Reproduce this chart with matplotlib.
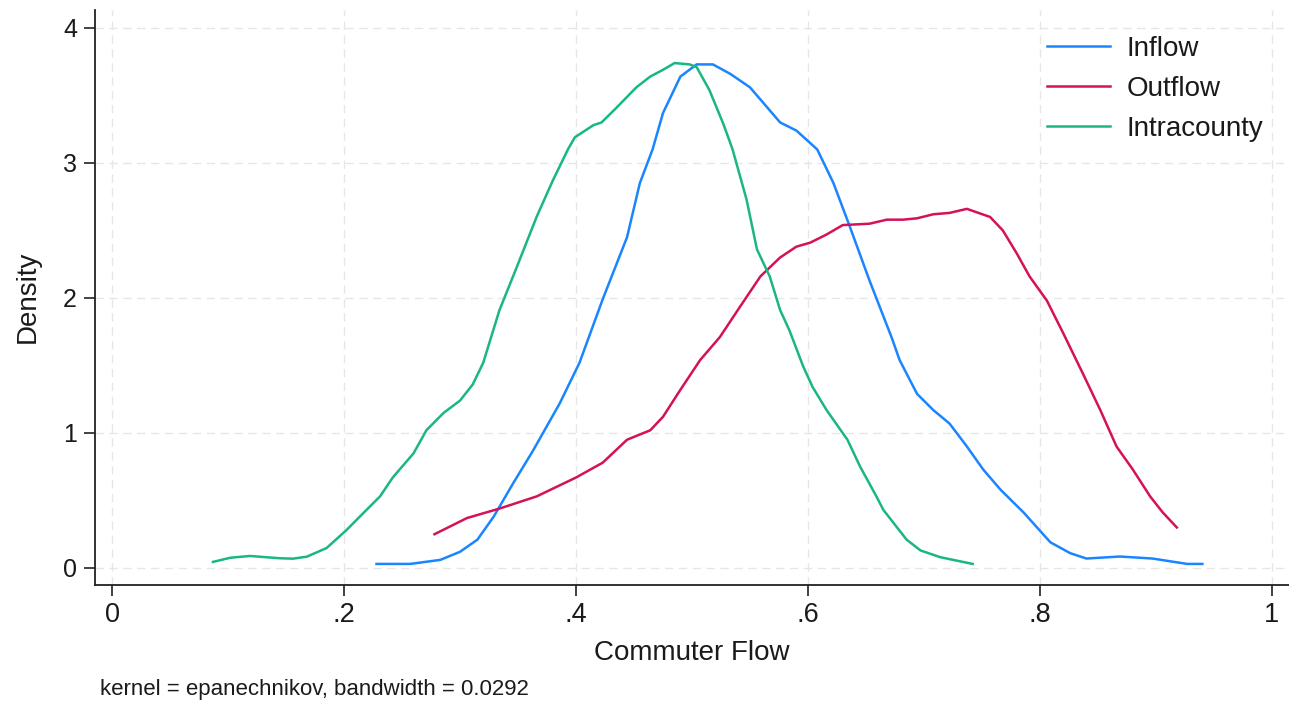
import matplotlib
matplotlib.use("Agg")
import matplotlib.pyplot as plt

plt.rcParams['font.family'] = ['Liberation Sans', 'DejaVu Sans']

# ---------------- data ----------------
inflow_x = [0.228, 0.257, 0.283, 0.300, 0.315, 0.329, 0.346, 0.363, 0.386, 0.403,
            0.423, 0.444, 0.455, 0.466, 0.475, 0.490, 0.504, 0.518, 0.533, 0.550,
            0.576, 0.590, 0.608, 0.622, 0.636, 0.653, 0.672, 0.679, 0.694, 0.708,
            0.722, 0.737, 0.751, 0.766, 0.786, 0.809, 0.826, 0.840, 0.869, 0.897,
            0.927, 0.940]
inflow_y = [0.03, 0.03, 0.06, 0.12, 0.21, 0.38, 0.63, 0.87, 1.22, 1.52,
            1.99, 2.45, 2.85, 3.10, 3.37, 3.64, 3.73, 3.73, 3.66, 3.56,
            3.30, 3.24, 3.10, 2.85, 2.53, 2.13, 1.71, 1.54, 1.29, 1.17,
            1.07, 0.90, 0.73, 0.58, 0.41, 0.19, 0.11, 0.07, 0.085, 0.07,
            0.03, 0.03]

outflow_x = [0.278, 0.306, 0.334, 0.366, 0.400, 0.423, 0.444, 0.464, 0.475, 0.490,
             0.507, 0.524, 0.541, 0.559, 0.576, 0.590, 0.602, 0.616, 0.630, 0.653,
             0.668, 0.682, 0.694, 0.708, 0.722, 0.737, 0.757, 0.768, 0.780, 0.791,
             0.806, 0.820, 0.837, 0.852, 0.866, 0.880, 0.895, 0.906, 0.918]
outflow_y = [0.25, 0.37, 0.44, 0.53, 0.67, 0.78, 0.95, 1.02, 1.12, 1.32,
             1.54, 1.71, 1.93, 2.16, 2.30, 2.38, 2.41, 2.47, 2.54, 2.55,
             2.58, 2.58, 2.59, 2.62, 2.63, 2.66, 2.60, 2.50, 2.33, 2.16,
             1.98, 1.74, 1.44, 1.17, 0.90, 0.73, 0.53, 0.41, 0.30]

intra_x = [0.087, 0.102, 0.119, 0.134, 0.145, 0.156, 0.168, 0.185, 0.202, 0.217,
           0.231, 0.242, 0.260, 0.271, 0.286, 0.300, 0.311, 0.320, 0.334, 0.349,
           0.366, 0.380, 0.393, 0.399, 0.415, 0.422, 0.435, 0.452, 0.464, 0.475,
           0.485, 0.498, 0.504, 0.515, 0.527, 0.535, 0.547, 0.556, 0.567, 0.576,
           0.584, 0.596, 0.604, 0.616, 0.634, 0.645, 0.659, 0.665, 0.685, 0.697,
           0.714, 0.742]
intra_y = [0.045, 0.076, 0.089, 0.079, 0.072, 0.069, 0.084, 0.148, 0.28, 0.41,
           0.53, 0.67, 0.85, 1.02, 1.15, 1.24, 1.36, 1.52, 1.91, 2.23,
           2.60, 2.87, 3.10, 3.19, 3.28, 3.30, 3.41, 3.56, 3.64, 3.69,
           3.74, 3.73, 3.71, 3.54, 3.29, 3.10, 2.73, 2.36, 2.16, 1.91,
           1.76, 1.49, 1.34, 1.17, 0.95, 0.75, 0.53, 0.43, 0.21, 0.13,
           0.08, 0.03]

series_names = ["Inflow", "Outflow", "Intracounty"]
series_colors = ["#1a85ff", "#d41159", "#1ab77f"]

x_ticks = [0, 0.2, 0.4, 0.6, 0.8, 1.0]
x_tick_labels = ["0", ".2", ".4", ".6", ".8", "1"]
y_ticks = [0, 1, 2, 3, 4]
y_tick_labels = ["0", "1", "2", "3", "4"]

# ---------------- figure ----------------
W, H = 1289, 701
fig = plt.figure(figsize=(W / 100, H / 100), dpi=100)
ax = fig.add_axes([95 / W, (H - 585) / H, (W - 95) / W, (585 - 10) / H])

for xs, ys, name, col in zip([inflow_x, outflow_x, intra_x],
                             [inflow_y, outflow_y, intra_y],
                             series_names, series_colors):
    ax.plot(xs, ys, color=col, lw=1.8, label=name, solid_joinstyle='round')

ax.set_xlim(-0.0147, 1.0147)
ax.set_ylim(-0.126, 4.133)
ax.set_xticks(x_ticks)
ax.set_xticklabels(x_tick_labels)
ax.set_yticks(y_ticks)
ax.set_yticklabels(y_tick_labels)

ax.grid(True, color="#e6e6e6", linestyle=(0, (6, 4)), linewidth=1.0)
ax.set_axisbelow(True)

for s in ["top", "right"]:
    ax.spines[s].set_visible(False)
for s in ["left", "bottom"]:
    ax.spines[s].set_color("#222222")
    ax.spines[s].set_linewidth(1.3)

ax.tick_params(axis='both', direction='out', length=8, width=1.2,
               color="#222222", labelcolor="#1a1a1a")
ax.tick_params(axis='x', labelsize=19.5, pad=4)
ax.tick_params(axis='y', labelsize=18, pad=5)

fig.text(692 / W, (H - 653) / H, "Commuter Flow", ha='center', va='center',
         fontsize=20, color="#1a1a1a")
fig.text(28 / W, (H - 297) / H, "Density", ha='center', va='center',
         rotation=90, fontsize=20, color="#1a1a1a")
fig.text(100 / W, (H - 690) / H, "kernel = epanechnikov, bandwidth = 0.0292",
         ha='left', va='center', fontsize=16, color="#1a1a1a")

leg = ax.legend(loc='upper left', bbox_to_anchor=(1047 / W, (H - 36) / H),
                bbox_transform=fig.transFigure, frameon=False, fontsize=20,
                handlelength=2.25, handletextpad=0.6, labelspacing=0.5,
                borderpad=0, borderaxespad=0)
for t in leg.get_texts():
    t.set_color("#1a1a1a")

fig.savefig("out.png", dpi=100, facecolor="white")
